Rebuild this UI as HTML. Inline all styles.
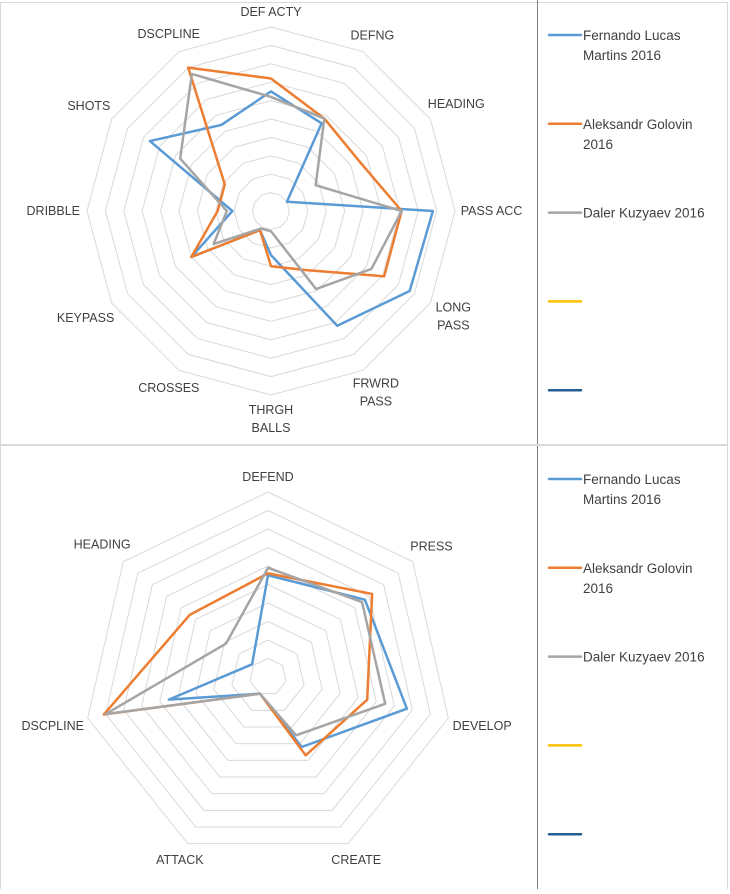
<!DOCTYPE html>
<html><head><meta charset="utf-8">
<style>
html,body{margin:0;padding:0;background:#fff;}
body{width:730px;height:889px;overflow:hidden;font-family:"Liberation Sans",sans-serif;}
svg text{font-family:"Liberation Sans",sans-serif;}
</style></head>
<body>
<svg id="s" width="730" height="889" xmlns="http://www.w3.org/2000/svg">
<g>
<rect x="0.5" y="2.5" width="727" height="442" fill="none" stroke="#d9d9d9"/>
<rect x="0.5" y="445.5" width="727" height="450" fill="none" stroke="#d9d9d9"/>
<line x1="537.5" y1="0" x2="537.5" y2="444" stroke="#808080"/>
<line x1="537.5" y1="446" x2="537.5" y2="889" stroke="#808080"/>
</g>
</svg>
<script>
const topAxes = ["DEF ACTY","DEFNG","HEADING","PASS ACC","LONG|PASS","FRWRD|PASS","THRGH|BALLS","CROSSES","KEYPASS","DRIBBLE","SHOTS","DSCPLINE"];
const topFernando = [6.5,5.5,1.0,8.8,8.7,7.2,2.4,1.2,5.0,2.1,7.6,5.4];
const topGolovin  = [7.2,5.8,5.5,7.1,7.1,3.7,3.0,1.2,5.0,2.9,2.9,9.0];
const topKuzyaev  = [6.2,5.8,2.8,7.1,6.3,4.9,1.1,1.1,3.6,2.4,5.7,8.6];
const botAxes = ["DEFEND","PRESS","DEVELOP","CREATE","ATTACK","DSCPLINE","HEADING"];
const botFernando = [5.5,6.7,7.7,4.2,1.0,5.5,1.1];
const botGolovin  = [5.6,7.2,5.5,4.7,1.0,9.1,5.4];
const botKuzyaev  = [5.9,6.5,6.5,3.5,1.0,9.0,2.9];
const seriesNames = ["Fernando Lucas|Martins 2016","Aleksandr Golovin|2016","Daler Kuzyaev 2016","",""];
const maxVal = 10;

const NS="http://www.w3.org/2000/svg";
const svg=document.getElementById('s');
const colors=["#5b9bd5","#ed7d31","#a5a5a5","#ffc000","#255e91"];
function mk(t,a,p){const e=document.createElementNS(NS,t);for(const k in a)e.setAttribute(k,a[k]);(p||svg).appendChild(e);return e;}
function pt(cx,cy,R,n,i,v){const a=i*2*Math.PI/n;const r=R*v/maxVal;return [cx+r*Math.sin(a),cy-r*Math.cos(a)];}

function radar(prefix,cx,cy,R,axes,series){
  const n=axes.length;
  const g=mk('g',{});
  
  
  for(let k=1;k<=maxVal;k++){
    const pts=[];for(let i=0;i<n;i++)pts.push(pt(cx,cy,R,n,i,k).join(','));
    const p=mk('polygon',{points:pts.join(' '),fill:'none',stroke:'#d9d9d9','stroke-width':1},g);
    
    
  }
  for(let i=0;i<n;i++){
    const lines=axes[i].split('|');
    const t=mk('text',{x:0,y:0,'font-size':12.5,fill:'#404040','text-anchor':'middle'},g);
    
    
    const spans=lines.map((l,j)=>{const ts=mk('tspan',{x:0,dy:j?18:0},t);ts.textContent=l;return ts;});
    let hw=0;spans.forEach(s=>{hw=Math.max(hw,s.getComputedTextLength()/2);});
    const a=i*2*Math.PI/n;const s2=Math.sin(a)*Math.sin(a);
    const vh=(lines.length-1)*9;
    const off=15+0.7*hw*s2+vh*(1-s2);
    const x=cx+(R+off)*Math.sin(a), y=cy-(R+off)*Math.cos(a);
    t.setAttribute('x',x);t.setAttribute('y',y-vh+4);
    spans.forEach(s=>s.setAttribute('x',x));
  }
  series.forEach((vals,s)=>{
    const pts=vals.map((v,i)=>pt(cx,cy,R,n,i,v).join(','));
    const p=mk('polygon',{points:pts.join(' '),fill:'none',stroke:colors[s],'stroke-width':2.5,'stroke-linejoin':'round'},g);
    
    
  });
}
function legend(prefix,y0){
  const g=mk('g',{});
  
  
  seriesNames.forEach((nm,s)=>{
    const y=y0+s*88.8;
    const e=mk('g',{},g);
    
    
    mk('line',{x1:549,y1:y,x2:581,y2:y,stroke:colors[s],'stroke-width':2.5,'stroke-linecap':'round'},e);
    if(nm){
      const t=mk('text',{x:583,y:y+5,'font-size':13.5,fill:'#404040'},e);
      nm.split('|').forEach((l,j)=>{const ts=mk('tspan',{x:583,dy:j?20:0},t);ts.textContent=l;});
    }
  });
}
radar('top',271,211,184,topAxes,[topFernando,topGolovin,topKuzyaev]);
radar('bottom',268,677,185,botAxes,[botFernando,botGolovin,botKuzyaev]);
legend('top',35);
legend('bottom',479);
</script>
</body></html>
